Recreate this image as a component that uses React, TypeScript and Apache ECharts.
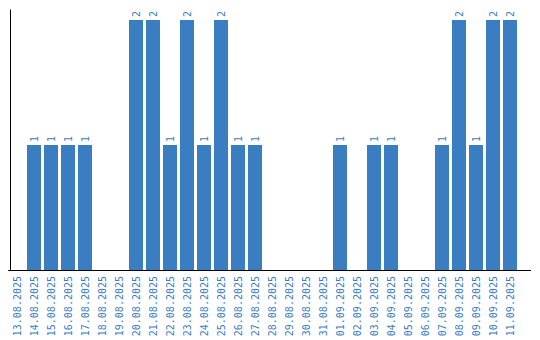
import React, { useEffect, useRef } from "react";
import * as echarts from "echarts";

const categories = [
  "13.08.2025", "14.08.2025", "15.08.2025", "16.08.2025", "17.08.2025",
  "18.08.2025", "19.08.2025", "20.08.2025", "21.08.2025", "22.08.2025",
  "23.08.2025", "24.08.2025", "25.08.2025", "26.08.2025", "27.08.2025",
  "28.08.2025", "29.08.2025", "30.08.2025", "31.08.2025", "01.09.2025",
  "02.09.2025", "03.09.2025", "04.09.2025", "05.09.2025", "06.09.2025",
  "07.09.2025", "08.09.2025", "09.09.2025", "10.09.2025", "11.09.2025",
];

const values = [
  0, 1, 1, 1, 1,
  0, 0, 2, 2, 1,
  2, 1, 2, 1, 1,
  0, 0, 0, 0, 1,
  0, 1, 1, 0, 0,
  1, 2, 1, 2, 2,
];

const BLUE = "#3b7dc1";
const FONT = "'DejaVu Sans Mono', monospace";

export default function App() {
  const ref = useRef<HTMLDivElement>(null);
  useEffect(() => {
    if (!ref.current) return;
    const chart = echarts.init(ref.current, undefined, { renderer: "svg" });
    chart.setOption({
      animation: false,
      grid: { left: 8.5, top: 10, width: 510, height: 260 },
      xAxis: {
        type: "category",
        data: categories,
        axisLine: { show: true, lineStyle: { color: "#000", width: 1 } },
        axisTick: { show: false },
        axisLabel: {
          rotate: 90,
          margin: 6,
          interval: 0,
          color: BLUE,
          fontFamily: FONT,
          fontSize: 10,
        },
      },
      yAxis: {
        type: "value",
        min: 0,
        max: 2.08,
        offset: -2,
        axisLine: { show: true, lineStyle: { color: "#000", width: 1 } },
        axisTick: { show: false },
        axisLabel: { show: false },
        splitLine: { show: false },
      },
      graphic: [
        {
          type: "line",
          shape: { x1: 518, y1: 270.5, x2: 531, y2: 270.5 },
          style: { stroke: "#000", lineWidth: 1 },
        },
      ],
      series: [
        {
          type: "bar",
          data: values.map((v) => (v === 0 ? null : v)),
          barWidth: 14,
          itemStyle: { color: BLUE },
          label: {
            show: true,
            position: "top",
            rotate: 90,
            align: "left",
            verticalAlign: "middle",
            distance: 3,
            color: BLUE,
            fontFamily: FONT,
            fontSize: 10,
          },
        },
      ],
    });
    return () => chart.dispose();
  }, []);
  return <div ref={ref} style={{ width: 540, height: 340, position: "absolute", left: 0, top: 0 }} />;
}
